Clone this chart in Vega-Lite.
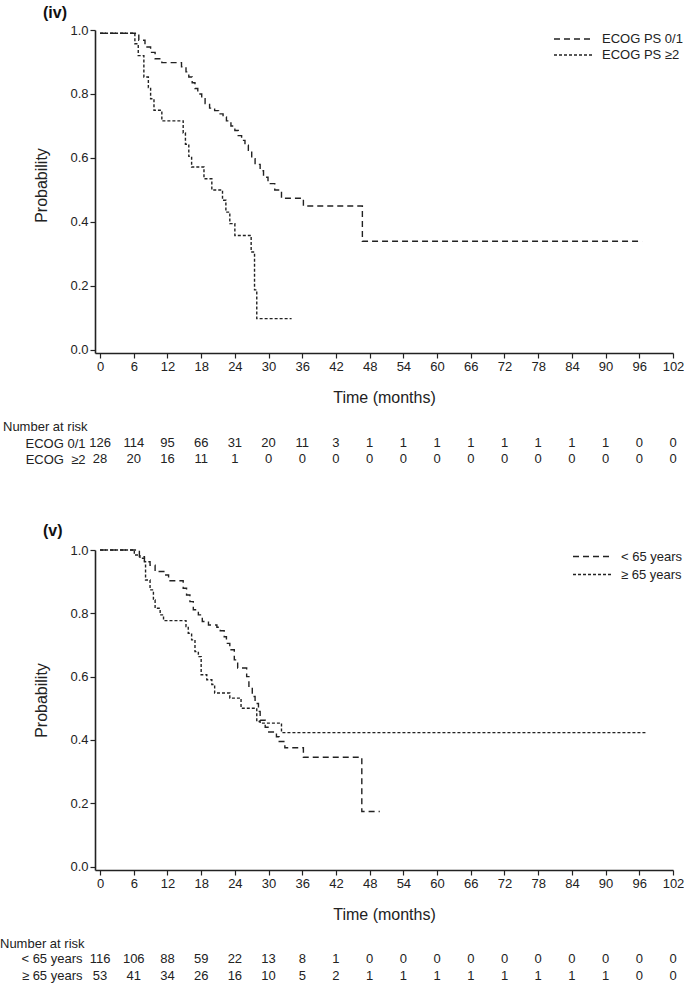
{
  "$schema": "https://vega.github.io/schema/vega-lite/v6.json",
  "padding": {"left": 0, "top": 5, "right": 0, "bottom": 0},
  "background": "white",
  "config": {
    "font": "Liberation Sans",
    "view": {"stroke": null},
    "axis": {"labelFont": "Liberation Sans", "labelFontSize": 13, "labelColor": "#222", "titleFont": "Liberation Sans", "titleFontSize": 16, "titleFontWeight": "normal", "titleColor": "#222", "domainColor": "#222", "tickColor": "#222", "grid": false, "labelFlush": false, "tickSize": 5, "labelPadding": 2, "domainWidth": 1.6, "tickWidth": 1.2},
    "legend": {"labelFont": "Liberation Sans", "labelFontSize": 13, "labelColor": "#222"},
    "title": {"font": "Liberation Sans"}
  },
  "datasets": {
    "km_iv": [
      {"group": "ECOG PS 0/1", "t": 0, "p": 0.99},
      {"group": "ECOG PS 0/1", "t": 6.9, "p": 0.968},
      {"group": "ECOG PS 0/1", "t": 8.0, "p": 0.947},
      {"group": "ECOG PS 0/1", "t": 9.0, "p": 0.93},
      {"group": "ECOG PS 0/1", "t": 9.8, "p": 0.91},
      {"group": "ECOG PS 0/1", "t": 11.0, "p": 0.898},
      {"group": "ECOG PS 0/1", "t": 14.5, "p": 0.885},
      {"group": "ECOG PS 0/1", "t": 15.3, "p": 0.869},
      {"group": "ECOG PS 0/1", "t": 15.8, "p": 0.853},
      {"group": "ECOG PS 0/1", "t": 16.4, "p": 0.835},
      {"group": "ECOG PS 0/1", "t": 16.9, "p": 0.817},
      {"group": "ECOG PS 0/1", "t": 17.4, "p": 0.8},
      {"group": "ECOG PS 0/1", "t": 18.1, "p": 0.785},
      {"group": "ECOG PS 0/1", "t": 18.7, "p": 0.77},
      {"group": "ECOG PS 0/1", "t": 19.5, "p": 0.756},
      {"group": "ECOG PS 0/1", "t": 20.4, "p": 0.748},
      {"group": "ECOG PS 0/1", "t": 21.1, "p": 0.738},
      {"group": "ECOG PS 0/1", "t": 21.9, "p": 0.728},
      {"group": "ECOG PS 0/1", "t": 22.5, "p": 0.716},
      {"group": "ECOG PS 0/1", "t": 23.3, "p": 0.7},
      {"group": "ECOG PS 0/1", "t": 24.0, "p": 0.686},
      {"group": "ECOG PS 0/1", "t": 24.6, "p": 0.67},
      {"group": "ECOG PS 0/1", "t": 25.2, "p": 0.655},
      {"group": "ECOG PS 0/1", "t": 25.8, "p": 0.64},
      {"group": "ECOG PS 0/1", "t": 26.4, "p": 0.624},
      {"group": "ECOG PS 0/1", "t": 27.0, "p": 0.598},
      {"group": "ECOG PS 0/1", "t": 27.6, "p": 0.58},
      {"group": "ECOG PS 0/1", "t": 28.5, "p": 0.56},
      {"group": "ECOG PS 0/1", "t": 29.1, "p": 0.54},
      {"group": "ECOG PS 0/1", "t": 29.9, "p": 0.52},
      {"group": "ECOG PS 0/1", "t": 31.1, "p": 0.5},
      {"group": "ECOG PS 0/1", "t": 32.3, "p": 0.474},
      {"group": "ECOG PS 0/1", "t": 36.2, "p": 0.45},
      {"group": "ECOG PS 0/1", "t": 46.7, "p": 0.34},
      {"group": "ECOG PS 0/1", "t": 96.5, "p": 0.34},
      {"group": "ECOG PS ≥2", "t": 0, "p": 0.99},
      {"group": "ECOG PS ≥2", "t": 6.2, "p": 0.957},
      {"group": "ECOG PS ≥2", "t": 6.8, "p": 0.92},
      {"group": "ECOG PS ≥2", "t": 7.8, "p": 0.853},
      {"group": "ECOG PS ≥2", "t": 8.6, "p": 0.82},
      {"group": "ECOG PS ≥2", "t": 9.0, "p": 0.785},
      {"group": "ECOG PS ≥2", "t": 9.6, "p": 0.749},
      {"group": "ECOG PS ≥2", "t": 11.0, "p": 0.716},
      {"group": "ECOG PS ≥2", "t": 14.8, "p": 0.678},
      {"group": "ECOG PS ≥2", "t": 15.2, "p": 0.643},
      {"group": "ECOG PS ≥2", "t": 15.8, "p": 0.605},
      {"group": "ECOG PS ≥2", "t": 16.3, "p": 0.572},
      {"group": "ECOG PS ≥2", "t": 18.5, "p": 0.535},
      {"group": "ECOG PS ≥2", "t": 19.9, "p": 0.5},
      {"group": "ECOG PS ≥2", "t": 21.8, "p": 0.468},
      {"group": "ECOG PS ≥2", "t": 22.4, "p": 0.431},
      {"group": "ECOG PS ≥2", "t": 23.1, "p": 0.395},
      {"group": "ECOG PS ≥2", "t": 24.0, "p": 0.358},
      {"group": "ECOG PS ≥2", "t": 26.9, "p": 0.306},
      {"group": "ECOG PS ≥2", "t": 27.5, "p": 0.188},
      {"group": "ECOG PS ≥2", "t": 27.9, "p": 0.098},
      {"group": "ECOG PS ≥2", "t": 34.1, "p": 0.098}
    ],
    "km_v": [
      {"group": "< 65 years", "t": 0, "p": 1.0},
      {"group": "< 65 years", "t": 7.0, "p": 0.979},
      {"group": "< 65 years", "t": 7.9, "p": 0.963},
      {"group": "< 65 years", "t": 8.9, "p": 0.952},
      {"group": "< 65 years", "t": 9.8, "p": 0.932},
      {"group": "< 65 years", "t": 11.5, "p": 0.921},
      {"group": "< 65 years", "t": 12.2, "p": 0.903},
      {"group": "< 65 years", "t": 14.8, "p": 0.879},
      {"group": "< 65 years", "t": 15.4, "p": 0.858},
      {"group": "< 65 years", "t": 16.0, "p": 0.837},
      {"group": "< 65 years", "t": 16.6, "p": 0.811},
      {"group": "< 65 years", "t": 17.5, "p": 0.795},
      {"group": "< 65 years", "t": 18.2, "p": 0.774},
      {"group": "< 65 years", "t": 19.3, "p": 0.763},
      {"group": "< 65 years", "t": 20.8, "p": 0.756},
      {"group": "< 65 years", "t": 21.4, "p": 0.745},
      {"group": "< 65 years", "t": 22.1, "p": 0.726},
      {"group": "< 65 years", "t": 22.5, "p": 0.705},
      {"group": "< 65 years", "t": 23.1, "p": 0.685},
      {"group": "< 65 years", "t": 23.9, "p": 0.653},
      {"group": "< 65 years", "t": 24.5, "p": 0.627},
      {"group": "< 65 years", "t": 26.1, "p": 0.6},
      {"group": "< 65 years", "t": 26.5, "p": 0.569},
      {"group": "< 65 years", "t": 27.1, "p": 0.537},
      {"group": "< 65 years", "t": 27.6, "p": 0.515},
      {"group": "< 65 years", "t": 28.2, "p": 0.49},
      {"group": "< 65 years", "t": 28.5, "p": 0.462},
      {"group": "< 65 years", "t": 29.4, "p": 0.44},
      {"group": "< 65 years", "t": 29.9, "p": 0.425},
      {"group": "< 65 years", "t": 31.4, "p": 0.41},
      {"group": "< 65 years", "t": 31.9, "p": 0.395},
      {"group": "< 65 years", "t": 32.9, "p": 0.375},
      {"group": "< 65 years", "t": 36.2, "p": 0.345},
      {"group": "< 65 years", "t": 46.6, "p": 0.174},
      {"group": "< 65 years", "t": 49.8, "p": 0.174},
      {"group": "≥ 65 years", "t": 0, "p": 1.0},
      {"group": "≥ 65 years", "t": 6.1, "p": 0.984},
      {"group": "≥ 65 years", "t": 7.1, "p": 0.974},
      {"group": "≥ 65 years", "t": 7.9, "p": 0.963},
      {"group": "≥ 65 years", "t": 8.1, "p": 0.905},
      {"group": "≥ 65 years", "t": 8.9, "p": 0.874},
      {"group": "≥ 65 years", "t": 9.5, "p": 0.842},
      {"group": "≥ 65 years", "t": 9.8, "p": 0.816},
      {"group": "≥ 65 years", "t": 10.7, "p": 0.795},
      {"group": "≥ 65 years", "t": 11.3, "p": 0.777},
      {"group": "≥ 65 years", "t": 15.3, "p": 0.758},
      {"group": "≥ 65 years", "t": 15.7, "p": 0.737},
      {"group": "≥ 65 years", "t": 16.3, "p": 0.716},
      {"group": "≥ 65 years", "t": 16.9, "p": 0.679},
      {"group": "≥ 65 years", "t": 17.5, "p": 0.663},
      {"group": "≥ 65 years", "t": 18.0, "p": 0.606},
      {"group": "≥ 65 years", "t": 19.0, "p": 0.59},
      {"group": "≥ 65 years", "t": 19.9, "p": 0.575},
      {"group": "≥ 65 years", "t": 20.4, "p": 0.548},
      {"group": "≥ 65 years", "t": 23.1, "p": 0.532},
      {"group": "≥ 65 years", "t": 25.1, "p": 0.5},
      {"group": "≥ 65 years", "t": 27.9, "p": 0.458},
      {"group": "≥ 65 years", "t": 28.5, "p": 0.453},
      {"group": "≥ 65 years", "t": 32.3, "p": 0.423},
      {"group": "≥ 65 years", "t": 97.2, "p": 0.423}
    ],
    "risk_iv": [
      {"row": "ECOG 0/1", "t": 0, "n": 126}, {"row": "ECOG 0/1", "t": 6, "n": 114}, {"row": "ECOG 0/1", "t": 12, "n": 95}, {"row": "ECOG 0/1", "t": 18, "n": 66}, {"row": "ECOG 0/1", "t": 24, "n": 31}, {"row": "ECOG 0/1", "t": 30, "n": 20}, {"row": "ECOG 0/1", "t": 36, "n": 11}, {"row": "ECOG 0/1", "t": 42, "n": 3}, {"row": "ECOG 0/1", "t": 48, "n": 1}, {"row": "ECOG 0/1", "t": 54, "n": 1}, {"row": "ECOG 0/1", "t": 60, "n": 1}, {"row": "ECOG 0/1", "t": 66, "n": 1}, {"row": "ECOG 0/1", "t": 72, "n": 1}, {"row": "ECOG 0/1", "t": 78, "n": 1}, {"row": "ECOG 0/1", "t": 84, "n": 1}, {"row": "ECOG 0/1", "t": 90, "n": 1}, {"row": "ECOG 0/1", "t": 96, "n": 0}, {"row": "ECOG 0/1", "t": 102, "n": 0},
      {"row": "ECOG \u00a0≥2", "t": 0, "n": 28}, {"row": "ECOG \u00a0≥2", "t": 6, "n": 20}, {"row": "ECOG \u00a0≥2", "t": 12, "n": 16}, {"row": "ECOG \u00a0≥2", "t": 18, "n": 11}, {"row": "ECOG \u00a0≥2", "t": 24, "n": 1}, {"row": "ECOG \u00a0≥2", "t": 30, "n": 0}, {"row": "ECOG \u00a0≥2", "t": 36, "n": 0}, {"row": "ECOG \u00a0≥2", "t": 42, "n": 0}, {"row": "ECOG \u00a0≥2", "t": 48, "n": 0}, {"row": "ECOG \u00a0≥2", "t": 54, "n": 0}, {"row": "ECOG \u00a0≥2", "t": 60, "n": 0}, {"row": "ECOG \u00a0≥2", "t": 66, "n": 0}, {"row": "ECOG \u00a0≥2", "t": 72, "n": 0}, {"row": "ECOG \u00a0≥2", "t": 78, "n": 0}, {"row": "ECOG \u00a0≥2", "t": 84, "n": 0}, {"row": "ECOG \u00a0≥2", "t": 90, "n": 0}, {"row": "ECOG \u00a0≥2", "t": 96, "n": 0}, {"row": "ECOG \u00a0≥2", "t": 102, "n": 0}
    ],
    "risk_v": [
      {"row": "< 65 years", "t": 0, "n": 116}, {"row": "< 65 years", "t": 6, "n": 106}, {"row": "< 65 years", "t": 12, "n": 88}, {"row": "< 65 years", "t": 18, "n": 59}, {"row": "< 65 years", "t": 24, "n": 22}, {"row": "< 65 years", "t": 30, "n": 13}, {"row": "< 65 years", "t": 36, "n": 8}, {"row": "< 65 years", "t": 42, "n": 1}, {"row": "< 65 years", "t": 48, "n": 0}, {"row": "< 65 years", "t": 54, "n": 0}, {"row": "< 65 years", "t": 60, "n": 0}, {"row": "< 65 years", "t": 66, "n": 0}, {"row": "< 65 years", "t": 72, "n": 0}, {"row": "< 65 years", "t": 78, "n": 0}, {"row": "< 65 years", "t": 84, "n": 0}, {"row": "< 65 years", "t": 90, "n": 0}, {"row": "< 65 years", "t": 96, "n": 0}, {"row": "< 65 years", "t": 102, "n": 0},
      {"row": "≥ 65 years", "t": 0, "n": 53}, {"row": "≥ 65 years", "t": 6, "n": 41}, {"row": "≥ 65 years", "t": 12, "n": 34}, {"row": "≥ 65 years", "t": 18, "n": 26}, {"row": "≥ 65 years", "t": 24, "n": 16}, {"row": "≥ 65 years", "t": 30, "n": 10}, {"row": "≥ 65 years", "t": 36, "n": 5}, {"row": "≥ 65 years", "t": 42, "n": 2}, {"row": "≥ 65 years", "t": 48, "n": 1}, {"row": "≥ 65 years", "t": 54, "n": 1}, {"row": "≥ 65 years", "t": 60, "n": 1}, {"row": "≥ 65 years", "t": 66, "n": 1}, {"row": "≥ 65 years", "t": 72, "n": 1}, {"row": "≥ 65 years", "t": 78, "n": 1}, {"row": "≥ 65 years", "t": 84, "n": 1}, {"row": "≥ 65 years", "t": 90, "n": 1}, {"row": "≥ 65 years", "t": 96, "n": 0}, {"row": "≥ 65 years", "t": 102, "n": 0}
    ]
  },
  "spacing": 56,
  "resolve": {"scale": {"strokeDash": "independent"}, "legend": {"strokeDash": "independent"}},
  "vconcat": [
    {
      "spacing": 16,
      "vconcat": [
        {
          "width": 578,
          "height": 323,
          "title": {"text": "(iv)", "anchor": "start", "frame": "group", "dx": -52, "fontSize": 16, "fontWeight": "bold", "color": "#111", "offset": 3},
          "data": {"name": "km_iv"},
          "mark": {"type": "line", "interpolate": "step-after", "color": "#222", "strokeWidth": 1.4},
          "encoding": {
            "x": {"field": "t", "type": "quantitative", "scale": {"domain": [-0.9, 102], "nice": false, "zero": false},
                  "axis": {"values": [0, 6, 12, 18, 24, 30, 36, 42, 48, 54, 60, 66, 72, 78, 84, 90, 96, 102], "title": "Time (months)", "titlePadding": 16}},
            "y": {"field": "p", "type": "quantitative", "scale": {"domain": [-0.0094, 1], "nice": false, "zero": false},
                  "axis": {"values": [0, 0.2, 0.4, 0.6, 0.8, 1], "format": ".1f", "title": "Probability", "titlePadding": 20, "titleY": 155}},
            "strokeDash": {"field": "group", "type": "nominal",
                  "scale": {"domain": ["ECOG PS 0/1", "ECOG PS ≥2"], "range": [[6, 4], [3, 2]]},
                  "legend": {"orient": "none", "legendX": 471, "legendY": 1.5, "title": null, "symbolType": "M-3,0H3", "symbolSize": 169, "symbolStrokeWidth": 1.4, "symbolStrokeColor": "#222", "symbolFillColor": "transparent", "labelOffset": 21, "rowPadding": 1, "padding": 0}}
          }
        },
        {
          "width": 578,
          "height": 32,
          "title": {"text": "Number at risk", "anchor": "start", "frame": "group", "dx": -92, "fontSize": 13, "fontWeight": "normal", "color": "#222", "offset": 1},
          "data": {"name": "risk_iv"},
          "mark": {"type": "text", "fontSize": 13, "color": "#222", "baseline": "middle", "align": "center"},
          "encoding": {
            "x": {"field": "t", "type": "quantitative", "scale": {"domain": [-0.9, 102], "nice": false, "zero": false}, "axis": null},
            "y": {"field": "row", "type": "nominal", "sort": ["ECOG 0/1", "ECOG \u00a0≥2"], "axis": {"title": null, "domain": false, "ticks": false, "labelPadding": 10}},
            "text": {"field": "n", "type": "quantitative"}
          }
        }
      ]
    },
    {
      "spacing": 16,
      "vconcat": [
        {
          "width": 578,
          "height": 320,
          "title": {"text": "(v)", "anchor": "start", "frame": "group", "dx": -52, "fontSize": 16, "fontWeight": "bold", "color": "#111", "offset": 5},
          "data": {"name": "km_v"},
          "mark": {"type": "line", "interpolate": "step-after", "color": "#222", "strokeWidth": 1.4},
          "encoding": {
            "x": {"field": "t", "type": "quantitative", "scale": {"domain": [-0.9, 102], "nice": false, "zero": false},
                  "axis": {"values": [0, 6, 12, 18, 24, 30, 36, 42, 48, 54, 60, 66, 72, 78, 84, 90, 96, 102], "title": "Time (months)", "titlePadding": 16}},
            "y": {"field": "p", "type": "quantitative", "scale": {"domain": [-0.011, 1], "nice": false, "zero": false},
                  "axis": {"values": [0, 0.2, 0.4, 0.6, 0.8, 1], "format": ".1f", "title": "Probability", "titlePadding": 20, "titleY": 150}},
            "strokeDash": {"field": "group", "type": "nominal",
                  "scale": {"domain": ["< 65 years", "≥ 65 years"], "range": [[6, 4], [3, 2]]},
                  "legend": {"orient": "none", "legendX": 490, "legendY": -1, "title": null, "symbolType": "M-3,0H3", "symbolSize": 169, "symbolStrokeWidth": 1.4, "symbolStrokeColor": "#222", "symbolFillColor": "transparent", "labelOffset": 21, "rowPadding": 3, "padding": 0}}
          }
        },
        {
          "width": 578,
          "height": 34,
          "title": {"text": "Number at risk", "anchor": "start", "frame": "group", "dx": -95, "fontSize": 13, "fontWeight": "normal", "color": "#222", "offset": -1},
          "data": {"name": "risk_v"},
          "mark": {"type": "text", "fontSize": 13, "color": "#222", "baseline": "middle", "align": "center"},
          "encoding": {
            "x": {"field": "t", "type": "quantitative", "scale": {"domain": [-0.9, 102], "nice": false, "zero": false}, "axis": null},
            "y": {"field": "row", "type": "nominal", "sort": ["< 65 years", "≥ 65 years"], "axis": {"title": null, "domain": false, "ticks": false, "labelPadding": 13}},
            "text": {"field": "n", "type": "quantitative"}
          }
        }
      ]
    }
  ]
}
